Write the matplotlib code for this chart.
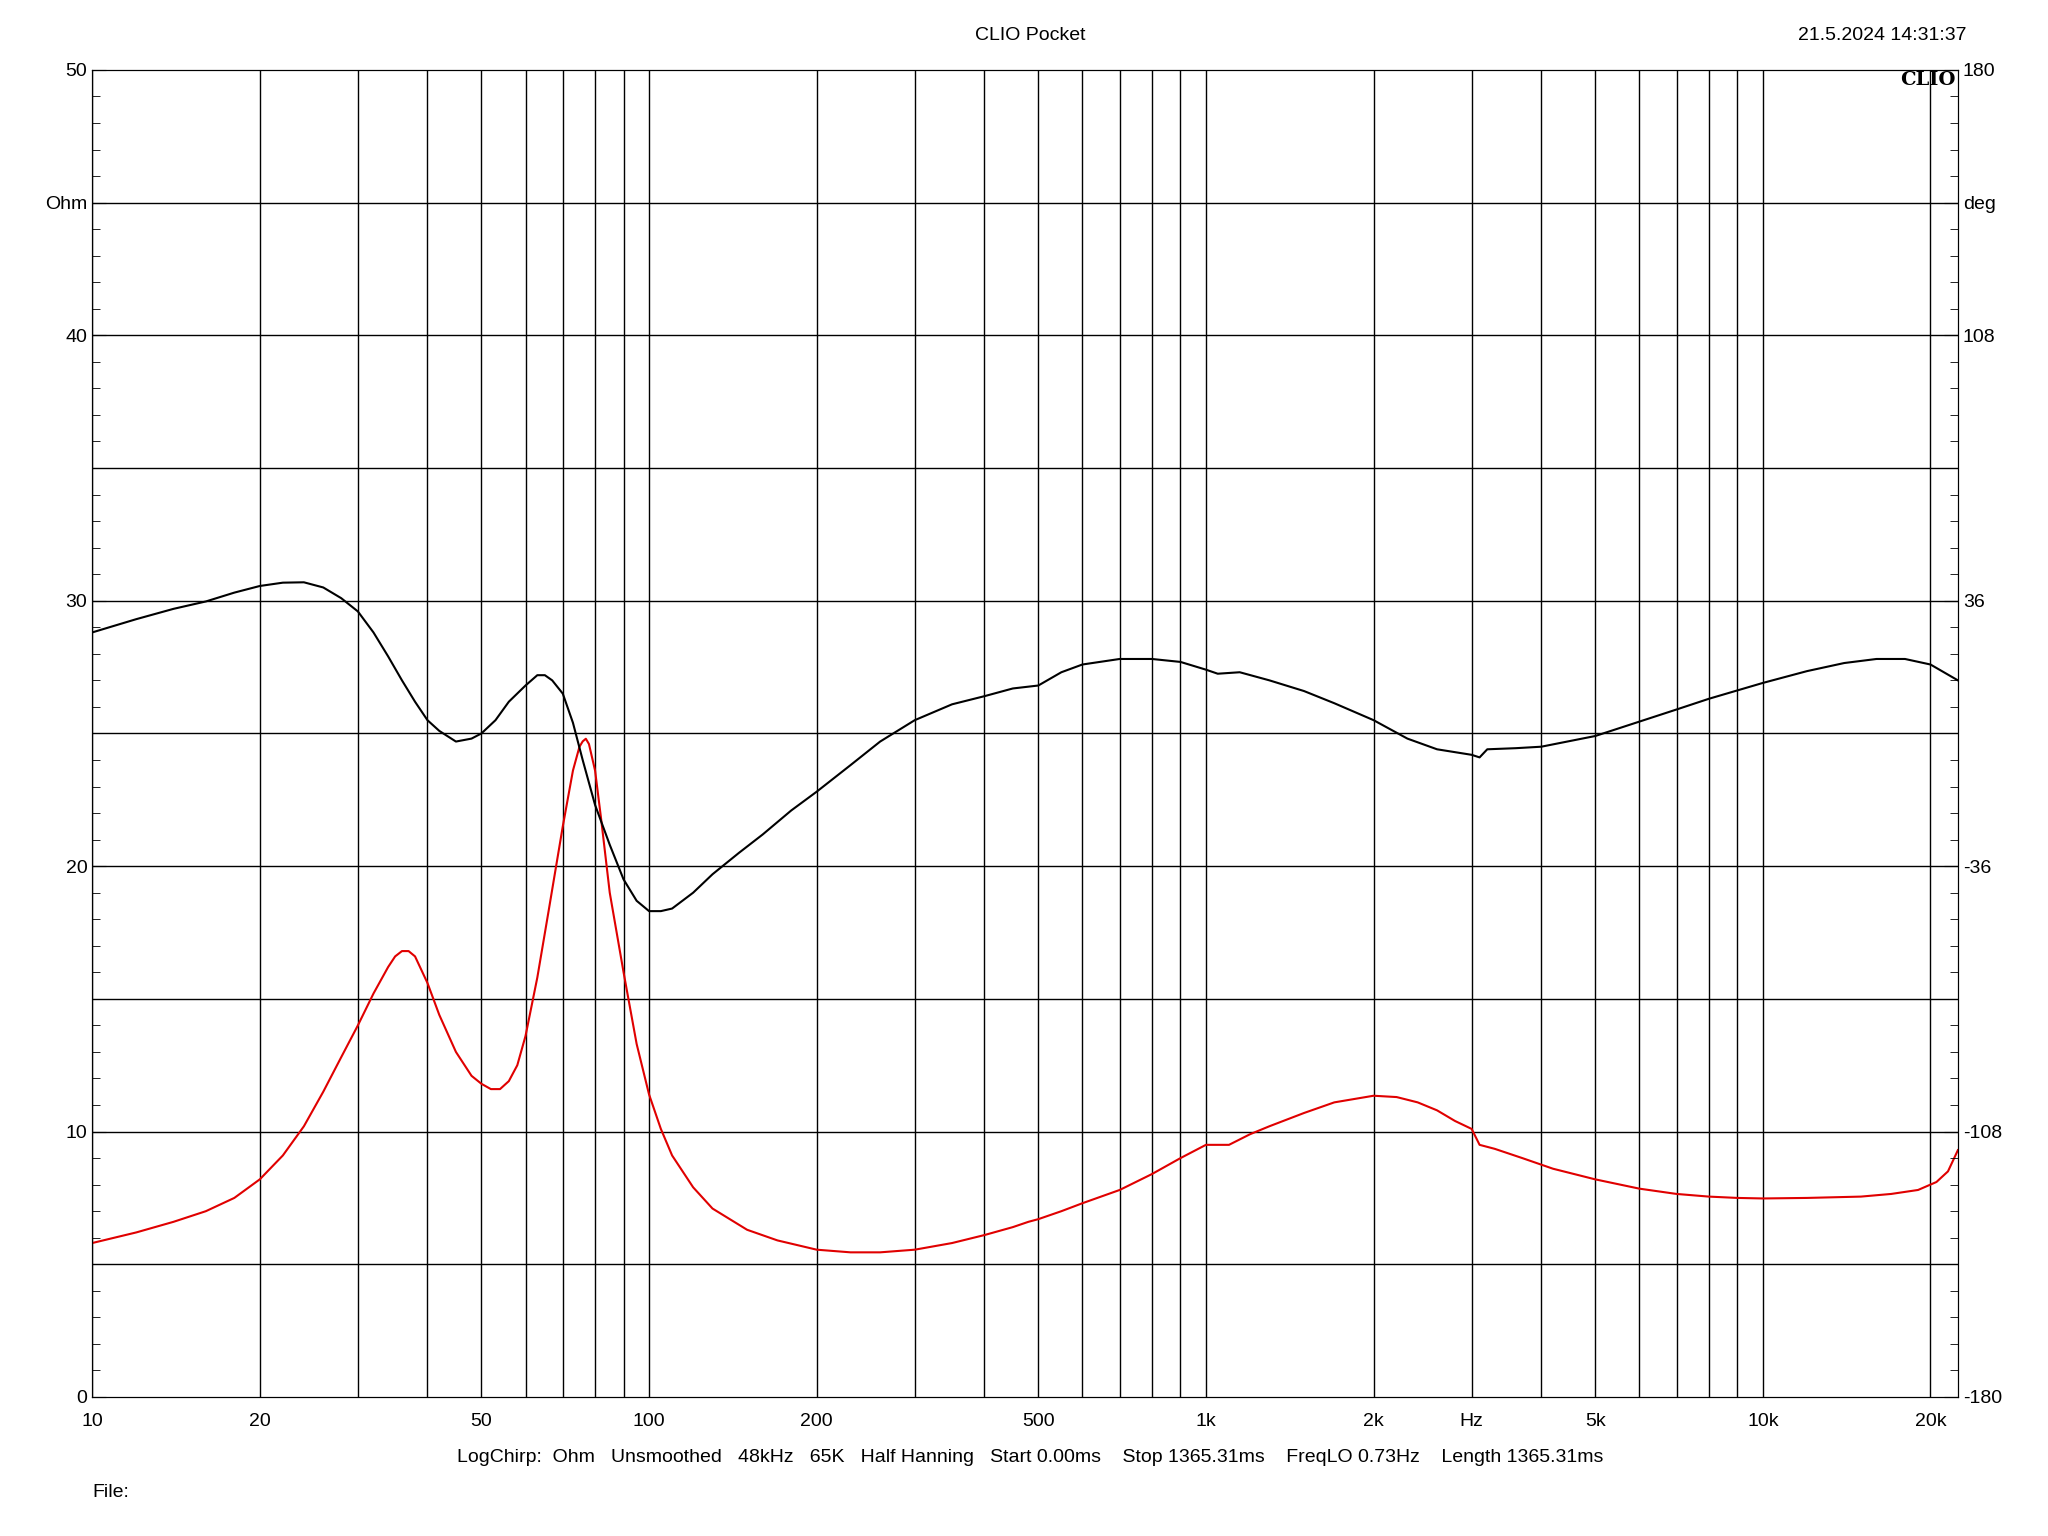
import numpy as np
import matplotlib
matplotlib.use("Agg")
import matplotlib.pyplot as plt
from matplotlib.ticker import FixedLocator, MultipleLocator

plt.rcParams['font.family'] = ['Liberation Sans', 'DejaVu Sans']

freq_imp = [10,12,14,16,18,20,22,24,26,28,30,32,34,35,36,37,38,40,42,45,48,50,52,54,56,58,60,63,66,70,73,75,76,77,78,80,82,85,90,95,100,105,110,120,130,150,170,200,230,260,300,350,400,450,480,500,550,600,700,800,900,1000,1100,1200,1300,1500,1700,2000,2200,2400,2600,2800,3000,3100,3300,3700,4200,5000,6000,7000,8000,9000,10000,12000,15000,17000,19000,20500,21500,22400]
imp_ohm = [5.8,6.2,6.6,7.0,7.5,8.2,9.1,10.2,11.5,12.8,14.0,15.2,16.2,16.6,16.8,16.8,16.6,15.6,14.4,13.0,12.1,11.8,11.6,11.6,11.9,12.5,13.6,15.8,18.3,21.5,23.6,24.5,24.7,24.8,24.6,23.6,21.8,19.0,16.0,13.3,11.4,10.1,9.1,7.9,7.1,6.3,5.9,5.55,5.45,5.45,5.55,5.8,6.1,6.4,6.6,6.7,7.0,7.3,7.8,8.4,9.0,9.5,9.5,9.9,10.2,10.7,11.1,11.35,11.3,11.1,10.8,10.4,10.1,9.5,9.35,9.0,8.6,8.2,7.85,7.65,7.55,7.5,7.48,7.5,7.55,7.65,7.8,8.1,8.5,9.3]
freq_ph = [10,12,14,16,18,20,22,24,26,28,30,32,34,36,38,40,42,45,48,50,53,56,60,63,65,67,70,73,76,80,85,90,95,100,105,110,120,130,145,160,180,200,230,260,300,350,400,450,500,550,600,700,800,900,1000,1050,1150,1300,1500,1700,2000,2300,2600,3000,3100,3200,3600,4000,5000,6000,7000,8000,10000,12000,14000,16000,18000,20000,22400]
phase_deg = [27.4,31.0,33.8,35.8,38.2,40.0,40.9,41.0,39.6,36.7,33.1,27.4,20.9,14.4,8.6,3.6,0.7,-2.2,-1.4,0.0,3.6,8.6,13.0,15.8,15.8,14.4,10.8,2.9,-7.2,-19.4,-30.2,-39.6,-45.4,-48.2,-48.2,-47.5,-43.2,-38.2,-32.4,-27.4,-20.9,-15.8,-8.6,-2.2,3.6,7.9,10.1,12.2,13.0,16.6,18.7,20.2,20.2,19.4,17.3,16.2,16.6,14.4,11.5,8.2,3.6,-1.4,-4.3,-5.8,-6.5,-4.3,-4.0,-3.6,-0.7,3.2,6.5,9.4,13.7,16.9,19.1,20.2,20.2,18.7,14.4]

fig = plt.figure(figsize=(20.48, 15.36), dpi=100)
ax = fig.add_axes([0.045, 0.0905, 0.911, 0.864])
ax.set_xscale('log')
ax.set_xlim(10, 22400)
ax.set_ylim(0, 50)
xgrid = [v*d for d in (10, 100, 1000, 10000) for v in range(1, 10) if v*d <= 22400]
ax.xaxis.set_major_locator(FixedLocator([]))
ax.xaxis.set_minor_locator(FixedLocator([]))
for x in xgrid:
    ax.axvline(x, color='black', lw=1)
for y in range(5, 50, 5):
    ax.axhline(y, color='black', lw=1)
ax.yaxis.set_major_locator(FixedLocator([0, 10, 20, 30, 40, 45, 50]))
ax.set_yticklabels(['0', '10', '20', '30', '40', 'Ohm', '50'])
ax.yaxis.set_minor_locator(MultipleLocator(1))
ax.tick_params(axis='y', which='major', length=10, labelsize=14, direction='in')
ax.tick_params(axis='y', which='minor', length=6, direction='in')

ax.plot(freq_imp, imp_ohm, color='#e00000', lw=1.5)

ax2 = ax.twinx()
ax2.set_ylim(-180, 180)
ax2.yaxis.set_major_locator(FixedLocator([-180, -108, -36, 36, 108, 144, 180]))
ax2.set_yticklabels(['-180', '-108', '-36', '36', '108', 'deg', '180'])
ax2.yaxis.set_minor_locator(MultipleLocator(7.2))
ax2.tick_params(axis='y', which='major', length=10, labelsize=14, direction='in')
ax2.tick_params(axis='y', which='minor', length=6, direction='in')
ax2.plot(freq_ph, phase_deg, color='black', lw=1.5)
ax2.set_xlim(10, 22400)

xl = [(10,'10'),(20,'20'),(50,'50'),(100,'100'),(200,'200'),(500,'500'),(1000,'1k'),(2000,'2k'),(3000,'Hz'),(5000,'5k'),(10000,'10k'),(20000,'20k')]
for x, t in xl:
    ax.text(x, -0.6, t, ha='center', va='top', fontsize=14)
fig.text(0.503, 0.977, 'CLIO Pocket', ha='center', va='center', fontsize=14)
fig.text(0.96, 0.977, '21.5.2024 14:31:37', ha='right', va='center', fontsize=14)
fig.text(0.955, 0.948, 'CLIO', ha='right', va='center', fontsize=14, family='DejaVu Serif', weight='bold')
fig.text(0.503, 0.051, 'LogChirp:  Ohm   Unsmoothed   48kHz   65K   Half Hanning   Start 0.00ms    Stop 1365.31ms    FreqLO 0.73Hz    Length 1365.31ms', ha='center', va='center', fontsize=14)
fig.text(0.045, 0.028, 'File:', ha='left', va='center', fontsize=14)
fig.savefig('out.png', dpi=100)
